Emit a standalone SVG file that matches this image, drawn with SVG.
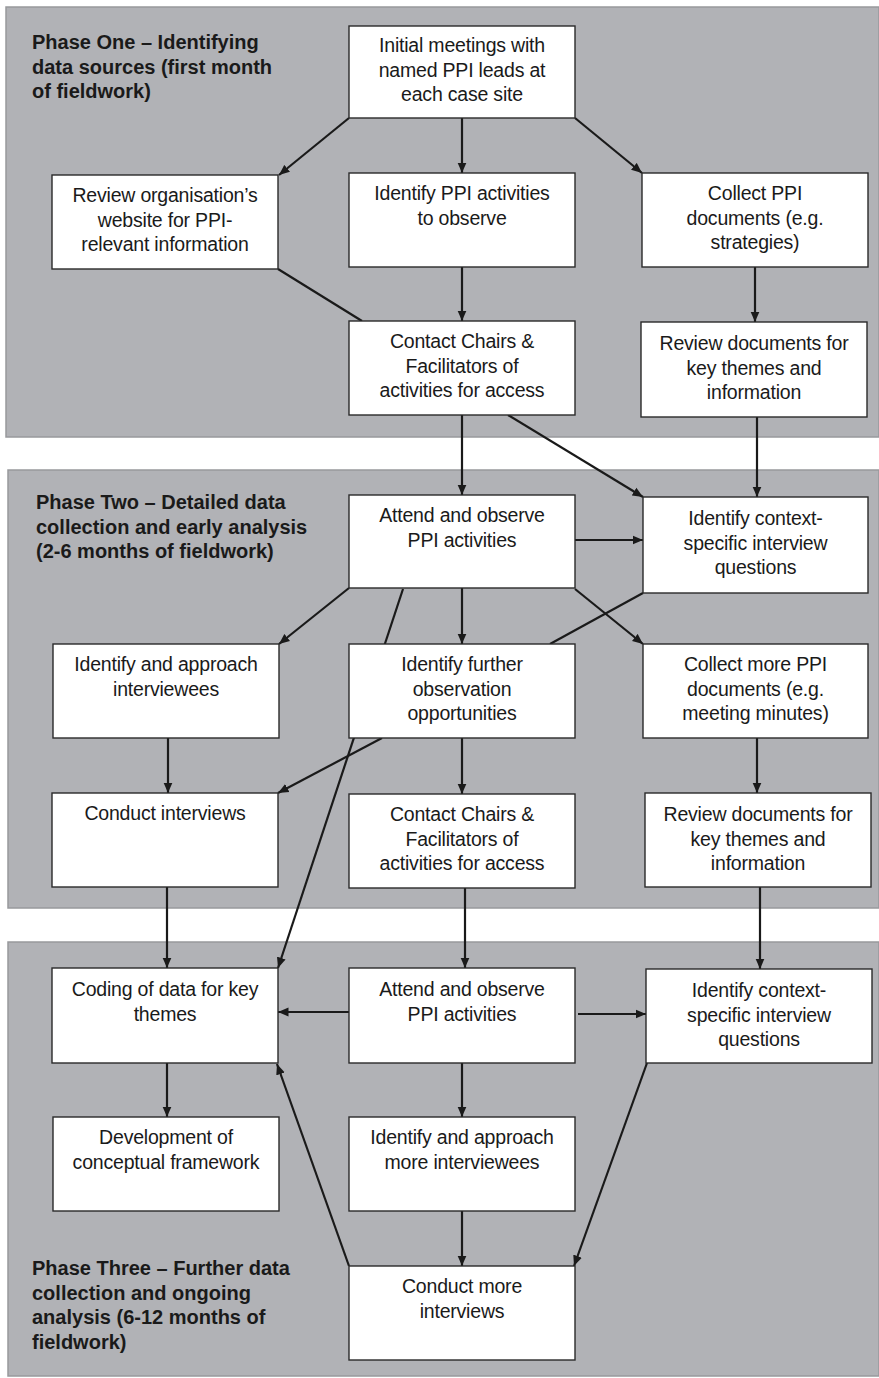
<svg xmlns="http://www.w3.org/2000/svg" width="879" height="1378" viewBox="0 0 879 1378">
<defs>
<marker id="ah" markerUnits="userSpaceOnUse" markerWidth="11" markerHeight="10" refX="10.5" refY="5" orient="auto">
<path d="M0,0.5 L10.5,5 L0,9.5 z" fill="#1a1a1a"/>
</marker>
<style>
.panel{fill:#b1b2b6;stroke:#98999c;stroke-width:1.5}
.box{fill:#ffffff;stroke:#2a2a2a;stroke-width:1.4}
.t{font-family:"Liberation Sans",Arial,sans-serif;font-size:19.5px;fill:#1a1a1a;text-anchor:middle;letter-spacing:-0.2px}
.ph{font-family:"Liberation Sans",Arial,sans-serif;font-size:20px;font-weight:bold;fill:#1a1a1a}
.c{stroke:#1a1a1a;stroke-width:2.2;fill:none}
.a{marker-end:url(#ah)}
</style>
</defs>
<rect width="879" height="1378" fill="#ffffff"/>
<g id="panels">
<rect class="panel" x="6" y="7" width="873" height="430"/>
<rect class="panel" x="8" y="470" width="871" height="438"/>
<rect class="panel" x="8" y="942" width="871" height="434"/>
</g>
<g id="phase-labels">
<text class="ph" x="32" y="49">Phase One – Identifying</text>
<text class="ph" x="32" y="73.5">data sources (first month</text>
<text class="ph" x="32" y="98">of fieldwork)</text>
<text class="ph" x="36" y="509">Phase Two – Detailed data</text>
<text class="ph" x="36" y="533.5">collection and early analysis</text>
<text class="ph" x="36" y="558">(2-6 months of fieldwork)</text>
<text class="ph" x="32" y="1275">Phase Three – Further data</text>
<text class="ph" x="32" y="1299.5">collection and ongoing</text>
<text class="ph" x="32" y="1324">analysis (6-12 months of</text>
<text class="ph" x="32" y="1348.5">fieldwork)</text>
</g>
<g id="connectors">
<line class="c a" x1="349" y1="118" x2="279" y2="175"/>
<line class="c a" x1="462" y1="118" x2="462" y2="173"/>
<line class="c a" x1="575" y1="118" x2="642" y2="173"/>
<line class="c" x1="278" y1="269" x2="362" y2="321"/>
<line class="c a" x1="462" y1="267" x2="462" y2="321"/>
<line class="c a" x1="755" y1="267" x2="755" y2="322"/>
<line class="c a" x1="462" y1="415" x2="462" y2="495"/>
<line class="c a" x1="508" y1="415" x2="643" y2="497"/>
<line class="c a" x1="757" y1="417" x2="757" y2="497"/>
<line class="c a" x1="349" y1="588" x2="279" y2="644"/>
<line class="c a" x1="575" y1="540" x2="643" y2="540"/>
<line class="c a" x1="462" y1="588" x2="462" y2="644"/>
<line class="c a" x1="575" y1="589" x2="643" y2="644"/>
<line class="c" x1="643" y1="593" x2="550" y2="644"/>
<line class="c a" x1="403" y1="589" x2="278" y2="968"/>
<line class="c a" x1="382" y1="738" x2="278" y2="793"/>
<line class="c a" x1="168" y1="738" x2="168" y2="793"/>
<line class="c a" x1="462" y1="738" x2="462" y2="794"/>
<line class="c a" x1="757" y1="738" x2="757" y2="793"/>
<line class="c a" x1="167" y1="887" x2="167" y2="968"/>
<line class="c a" x1="465" y1="888" x2="465" y2="968"/>
<line class="c a" x1="760" y1="887" x2="760" y2="969"/>
<line class="c a" x1="349" y1="1012" x2="278" y2="1012"/>
<line class="c a" x1="578" y1="1014" x2="646" y2="1014"/>
<line class="c a" x1="462" y1="1063" x2="462" y2="1117"/>
<line class="c a" x1="167" y1="1063" x2="167" y2="1117"/>
<line class="c a" x1="462" y1="1211" x2="462" y2="1266"/>
<line class="c a" x1="647" y1="1063" x2="574" y2="1266"/>
<line class="c a" x1="349" y1="1266" x2="277" y2="1064"/>
</g>
<g id="n-initial-meetings">
<rect class="box" x="349" y="26" width="226" height="92"/>
<text class="t" x="462" y="52">Initial meetings with</text>
<text class="t" x="462" y="76.5">named PPI leads at</text>
<text class="t" x="462" y="101">each case site</text>
</g>
<g id="n-review-website">
<rect class="box" x="52" y="175" width="226" height="94"/>
<text class="t" x="165" y="202">Review organisation’s</text>
<text class="t" x="165" y="226.5">website for PPI-</text>
<text class="t" x="165" y="251">relevant information</text>
</g>
<g id="n-identify-activities">
<rect class="box" x="349" y="173" width="226" height="94"/>
<text class="t" x="462" y="200">Identify PPI activities</text>
<text class="t" x="462" y="224.5">to observe</text>
</g>
<g id="n-collect-ppi">
<rect class="box" x="642" y="173" width="226" height="94"/>
<text class="t" x="755" y="200">Collect PPI</text>
<text class="t" x="755" y="224.5">documents (e.g.</text>
<text class="t" x="755" y="249">strategies)</text>
</g>
<g id="n-contact-chairs-1">
<rect class="box" x="349" y="321" width="226" height="94"/>
<text class="t" x="462" y="348">Contact Chairs &amp;</text>
<text class="t" x="462" y="372.5">Facilitators of</text>
<text class="t" x="462" y="397">activities for access</text>
</g>
<g id="n-review-docs-1">
<rect class="box" x="641" y="322" width="226" height="95"/>
<text class="t" x="754" y="350">Review documents for</text>
<text class="t" x="754" y="374.5">key themes and</text>
<text class="t" x="754" y="399">information</text>
</g>
<g id="n-attend-1">
<rect class="box" x="349" y="495" width="226" height="93"/>
<text class="t" x="462" y="522">Attend and observe</text>
<text class="t" x="462" y="546.5">PPI activities</text>
</g>
<g id="n-context-questions-1">
<rect class="box" x="643" y="497" width="225" height="96"/>
<text class="t" x="755.5" y="525">Identify context-</text>
<text class="t" x="755.5" y="549.5">specific interview</text>
<text class="t" x="755.5" y="574">questions</text>
</g>
<g id="n-approach-interviewees">
<rect class="box" x="53" y="644" width="226" height="94"/>
<text class="t" x="166" y="671">Identify and approach</text>
<text class="t" x="166" y="695.5">interviewees</text>
</g>
<g id="n-further-observation">
<rect class="box" x="349" y="644" width="226" height="94"/>
<text class="t" x="462" y="671">Identify further</text>
<text class="t" x="462" y="695.5">observation</text>
<text class="t" x="462" y="720">opportunities</text>
</g>
<g id="n-collect-more">
<rect class="box" x="643" y="644" width="225" height="94"/>
<text class="t" x="755.5" y="671">Collect more PPI</text>
<text class="t" x="755.5" y="695.5">documents (e.g.</text>
<text class="t" x="755.5" y="720">meeting minutes)</text>
</g>
<g id="n-conduct-interviews">
<rect class="box" x="52" y="793" width="226" height="94"/>
<text class="t" x="165" y="820">Conduct interviews</text>
</g>
<g id="n-contact-chairs-2">
<rect class="box" x="349" y="794" width="226" height="94"/>
<text class="t" x="462" y="821">Contact Chairs &amp;</text>
<text class="t" x="462" y="845.5">Facilitators of</text>
<text class="t" x="462" y="870">activities for access</text>
</g>
<g id="n-review-docs-2">
<rect class="box" x="645" y="793" width="226" height="94"/>
<text class="t" x="758" y="821">Review documents for</text>
<text class="t" x="758" y="845.5">key themes and</text>
<text class="t" x="758" y="870">information</text>
</g>
<g id="n-coding">
<rect class="box" x="52" y="968" width="226" height="95"/>
<text class="t" x="165" y="996">Coding of data for key</text>
<text class="t" x="165" y="1020.5">themes</text>
</g>
<g id="n-attend-2">
<rect class="box" x="349" y="968" width="226" height="95"/>
<text class="t" x="462" y="996">Attend and observe</text>
<text class="t" x="462" y="1020.5">PPI activities</text>
</g>
<g id="n-context-questions-2">
<rect class="box" x="646" y="969" width="226" height="94"/>
<text class="t" x="759" y="997">Identify context-</text>
<text class="t" x="759" y="1021.5">specific interview</text>
<text class="t" x="759" y="1046">questions</text>
</g>
<g id="n-development">
<rect class="box" x="53" y="1117" width="226" height="94"/>
<text class="t" x="166" y="1144">Development of</text>
<text class="t" x="166" y="1168.5">conceptual framework</text>
</g>
<g id="n-approach-more">
<rect class="box" x="349" y="1117" width="226" height="94"/>
<text class="t" x="462" y="1144">Identify and approach</text>
<text class="t" x="462" y="1168.5">more interviewees</text>
</g>
<g id="n-conduct-more">
<rect class="box" x="349" y="1266" width="226" height="94"/>
<text class="t" x="462" y="1293">Conduct more</text>
<text class="t" x="462" y="1317.5">interviews</text>
</g>
</svg>
